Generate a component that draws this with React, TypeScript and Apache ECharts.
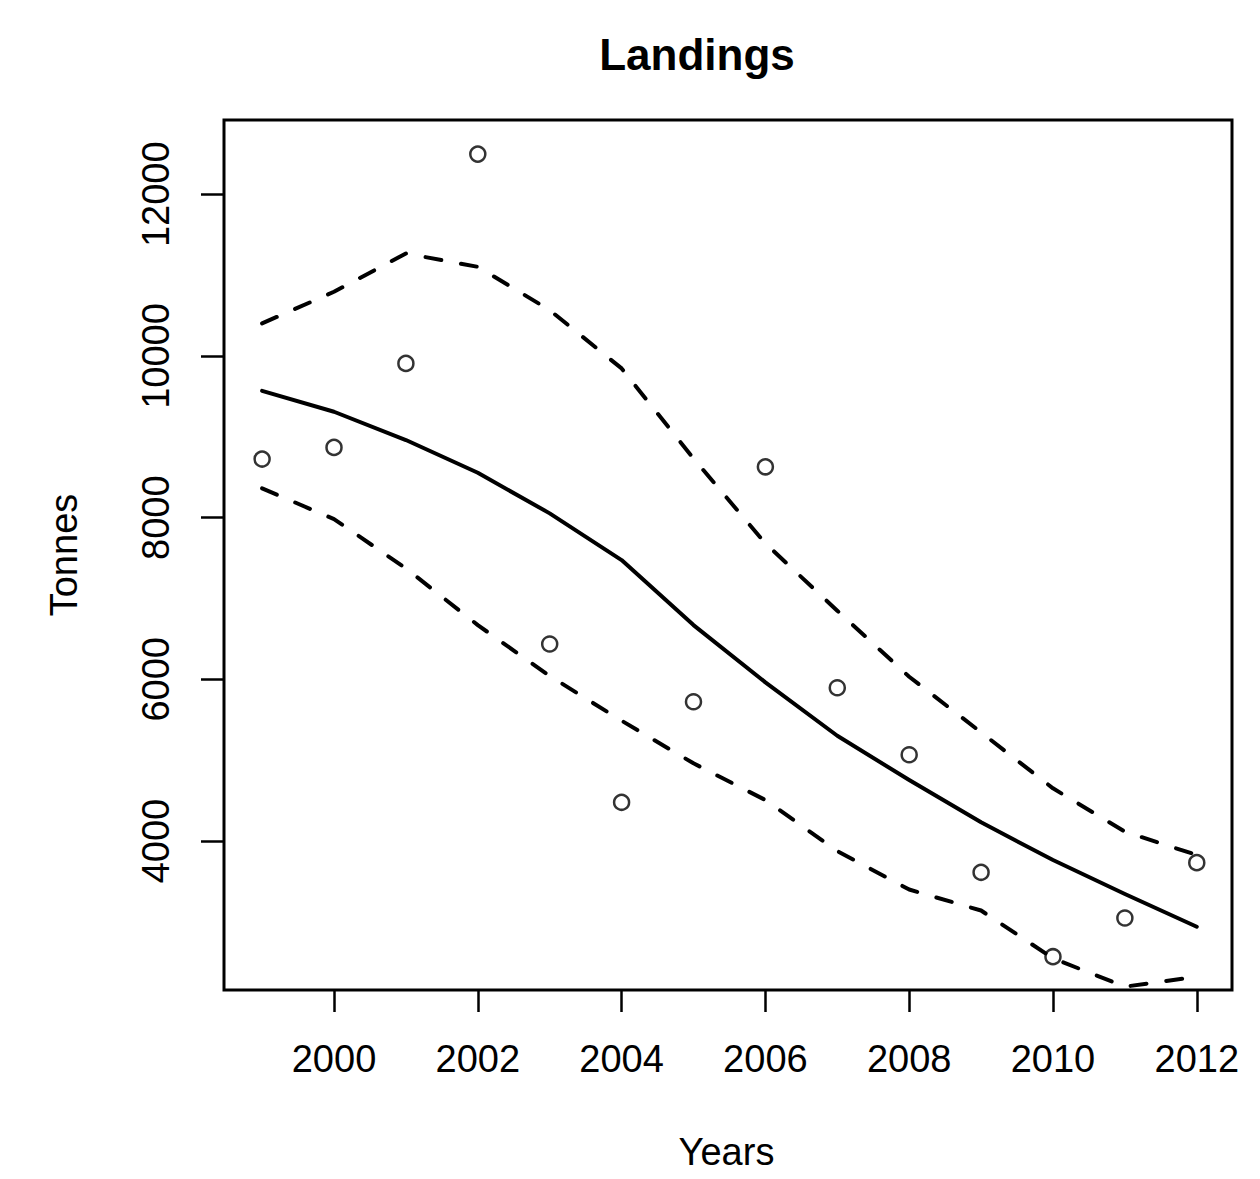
import React, { useEffect, useRef } from "react";
import * as echarts from "echarts";

const years = [1999, 2000, 2001, 2002, 2003, 2004, 2005, 2006, 2007, 2008, 2009, 2010, 2011, 2012];
const landings = [8725, 8869, 9908, 12497, 6437, 4479, 5723, 8629, 5896, 5067, 3613, 2569, 3048, 3732];
const fitted = [9569, 9310, 8960, 8555, 8053, 7475, 6671, 5963, 5302, 4754, 4231, 3765, 3344, 2940];
const upperBand = [10403, 10794, 11268, 11103, 10567, 9846, 8733, 7682, 6849, 6032, 5344, 4652, 4115, 3827];
const lowerBand = [8362, 7982, 7373, 6671, 6041, 5488, 4961, 4507, 3876, 3400, 3140, 2549, 2198, 2322];
const xTicks = [2000, 2002, 2004, 2006, 2008, 2010, 2012];
const yTicks = [4000, 6000, 8000, 10000, 12000];

const FONT = "'Liberation Sans', Arial, sans-serif";

const pairs = (vals: number[]) => years.map((y, i) => [y, vals[i]]);

export default function App() {
  const ref = useRef<HTMLDivElement>(null);
  useEffect(() => {
    if (!ref.current) return;
    const chart = echarts.init(ref.current, null, { renderer: "svg" });
    const lineStyleBase = { color: "#000", width: 4, cap: "round", join: "round" };
    chart.setOption({
      animation: false,
      backgroundColor: "#fff",
      grid: {
        left: 224,
        top: 120,
        width: 1008,
        height: 870,
        show: true,
        borderColor: "#000",
        borderWidth: 3,
        backgroundColor: "transparent",
      },
      xAxis: {
        type: "value",
        min: 1998.47,
        max: 2012.49,
        axisLine: { show: false },
        splitLine: { show: false },
        axisTick: {
          show: true,
          customValues: xTicks,
          length: 22,
          lineStyle: { color: "#000", width: 2.5 },
        },
        axisLabel: {
          show: true,
          customValues: xTicks,
          margin: 50,
          color: "#000",
          fontSize: 38,
          fontFamily: FONT,
          formatter: (v: number) => String(v),
        },
      },
      yAxis: {
        type: "value",
        min: 2157,
        max: 12919,
        axisLine: { show: false },
        splitLine: { show: false },
        axisTick: {
          show: true,
          customValues: yTicks,
          length: 23,
          lineStyle: { color: "#000", width: 2.5 },
        },
        axisLabel: {
          show: true,
          customValues: yTicks,
          rotate: 90,
          margin: 49,
          color: "#000",
          fontSize: 38,
          fontFamily: FONT,
          formatter: (v: number) => String(v),
        },
      },
      graphic: [
        {
          type: "text",
          x: 697,
          y: 54,
          style: {
            text: "Landings",
            fill: "#000",
            font: `bold 44px ${FONT}`,
            textAlign: "center",
            textVerticalAlign: "middle",
          },
        },
        {
          type: "text",
          x: 726.5,
          y: 1152,
          style: {
            text: "Years",
            fill: "#000",
            font: `38px ${FONT}`,
            textAlign: "center",
            textVerticalAlign: "middle",
          },
        },
        {
          type: "text",
          x: 64,
          y: 555,
          rotation: Math.PI / 2,
          style: {
            text: "Tonnes",
            fill: "#000",
            font: `38px ${FONT}`,
            textAlign: "center",
            textVerticalAlign: "middle",
          },
        },
      ],
      series: [
        {
          type: "line",
          data: pairs(fitted),
          showSymbol: false,
          lineStyle: { ...lineStyleBase, type: "solid" },
          z: 3,
        },
        {
          type: "line",
          data: pairs(upperBand),
          showSymbol: false,
          lineStyle: { ...lineStyleBase, type: [16, 20] },
          z: 3,
        },
        {
          type: "line",
          data: pairs(lowerBand),
          showSymbol: false,
          lineStyle: { ...lineStyleBase, type: [16, 20] },
          z: 3,
        },
        {
          type: "scatter",
          data: pairs(landings),
          symbol: "circle",
          symbolSize: 15,
          itemStyle: { color: "rgba(255,255,255,0)", borderColor: "#000", borderWidth: 2.5 },
          z: 4,
        },
      ],
    });
    return () => chart.dispose();
  }, []);
  return (
    <div
      ref={ref}
      style={{ position: "absolute", left: 0, top: 0, width: 1260, height: 1179, background: "#fff" }}
    />
  );
}
